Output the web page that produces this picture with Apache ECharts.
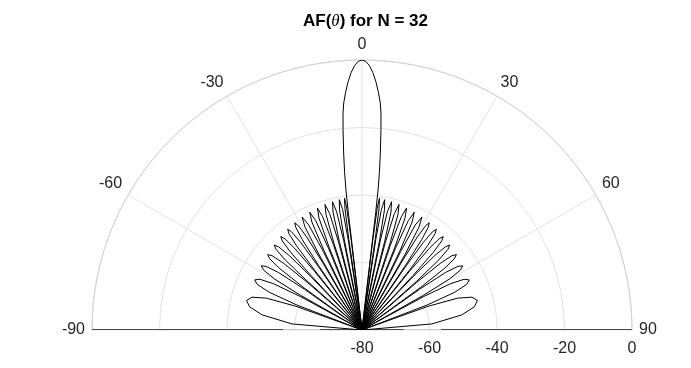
<!DOCTYPE html>
<html>
<head>
<meta charset="utf-8">
<script src="https://cdn.jsdelivr.net/npm/echarts@6/dist/echarts.min.js"></script>
<style>html,body{margin:0;padding:0;background:#fff}#c{width:691px;height:368px}</style>
</head>
<body>
<div id="c"></div>
<script>
// Angle tick labels (degrees) and radial tick labels (dB)
const thetaTicks = [-90, -60, -30, 0, 30, 60, 90];
const rTicks = [-80, -60, -40, -20, 0];

// Main lobe (theta in degrees, AF in dB)
const mainTheta = [-6.7, -6.65, -6.55, -6.3, -5.9, -5.4, -5.0, -4.6, -3.9, -3.2, -2.4, -1.6, -0.8, 0,
                   0.8, 1.6, 2.4, 3.2, 3.9, 4.6, 5.0, 5.4, 5.9, 6.3, 6.55, 6.65, 6.7];
const mainDb = [-80, -45, -38.5, -33, -27, -20.3, -15.5, -12.5, -9.2, -6.3, -3.6, -1.6, -0.4, 0,
                -0.4, -1.6, -3.6, -6.3, -9.2, -12.5, -15.5, -20.3, -27, -33, -38.5, -45, -80];

// Side lobes, right half (from main-lobe null outwards to 90 deg)
const rightTheta = [
  6.84, 7.12, 7.55, 7.98, 8.29, 8.44,
  8.67, 9.15, 9.87, 10.59, 11.08, 11.31,
  11.57, 12.14, 12.97, 13.80, 14.37, 14.64,
  14.92, 15.53, 16.42, 17.31, 17.93, 18.21,
  18.51, 19.15, 20.08, 21.03, 21.67, 21.97,
  22.28, 22.95, 23.92, 24.91, 25.58, 25.90,
  26.22, 26.91, 27.93, 28.96, 29.66, 30.00,
  30.25, 30.75, 31.38, 32.09, 32.81, 33.45, 33.97, 34.23,
  34.49, 35.01, 35.67, 36.42, 37.18, 37.86, 38.41, 38.68,
  38.96, 39.51, 40.21, 41.01, 41.83, 42.55, 43.14, 43.43,
  43.73, 44.33, 45.08, 45.95, 46.83, 47.62, 48.26, 48.59,
  48.92, 49.58, 50.41, 51.38, 52.36, 53.25, 53.98, 54.34,
  54.71, 55.46, 56.42, 57.54, 58.69, 59.74, 60.60, 61.04,
  61.50, 62.41, 63.59, 64.99, 66.47, 67.85, 69.02, 69.64,
  70.26, 71.58, 73.37, 75.64, 78.35, 81.40, 85.03, 90.00
];
const rightDb = [
  -52.6, -43.6, -40.6, -43.6, -52.6, -80,
  -52.8, -43.8, -40.8, -43.8, -52.8, -80,
  -53.0, -44.0, -41.0, -44.0, -53.0, -80,
  -53.2, -44.2, -41.2, -44.2, -53.2, -80,
  -53.5, -44.5, -41.5, -44.5, -53.5, -80,
  -53.8, -44.8, -41.8, -44.8, -53.8, -80,
  -54.1, -45.1, -42.1, -45.1, -54.1, -80,
  -57.0, -47.9, -43.8, -42.5, -43.8, -47.9, -57.0, -80,
  -57.4, -48.3, -44.2, -42.9, -44.2, -48.3, -57.4, -80,
  -57.8, -48.7, -44.6, -43.3, -44.6, -48.7, -57.8, -80,
  -58.3, -49.2, -45.1, -43.8, -45.1, -49.2, -58.3, -80,
  -58.7, -49.6, -45.5, -44.2, -45.5, -49.6, -58.7, -80,
  -59.1, -50.0, -45.9, -44.6, -45.9, -50.0, -59.1, -80,
  -59.4, -50.3, -46.2, -44.9, -46.2, -50.3, -59.4, -80,
  -59.2, -50.1, -46.0, -44.7, -46.0, -50.1, -59.2, -80
];

// Side lobes, left half (from -90 deg inwards to main-lobe null)
const leftTheta = [
  -90.00, -85.03, -81.40, -78.35, -75.64, -73.37, -71.58, -70.26,
  -69.64, -69.02, -67.85, -66.47, -64.99, -63.59, -62.41, -61.50,
  -61.04, -60.60, -59.74, -58.69, -57.54, -56.42, -55.46, -54.71,
  -54.34, -53.98, -53.25, -52.36, -51.38, -50.41, -49.58, -48.92,
  -48.59, -48.26, -47.62, -46.83, -45.95, -45.08, -44.33, -43.73,
  -43.43, -43.14, -42.55, -41.83, -41.01, -40.21, -39.51, -38.96,
  -38.68, -38.41, -37.86, -37.18, -36.42, -35.67, -35.01, -34.49,
  -34.23, -33.97, -33.45, -32.81, -32.09, -31.38, -30.75, -30.25,
  -30.00, -29.66, -28.96, -27.93, -26.91, -26.22,
  -25.90, -25.58, -24.91, -23.92, -22.95, -22.28,
  -21.97, -21.67, -21.03, -20.08, -19.15, -18.51,
  -18.21, -17.93, -17.31, -16.42, -15.53, -14.92,
  -14.64, -14.37, -13.80, -12.97, -12.14, -11.57,
  -11.31, -11.08, -10.59, -9.87, -9.15, -8.67,
  -8.44, -8.29, -7.98, -7.55, -7.12, -6.84
];
const leftDb = [
  -80, -59.2, -50.1, -46.0, -44.7, -46.0, -50.1, -59.2,
  -80, -59.4, -50.3, -46.2, -44.9, -46.2, -50.3, -59.4,
  -80, -59.1, -50.0, -45.9, -44.6, -45.9, -50.0, -59.1,
  -80, -58.7, -49.6, -45.5, -44.2, -45.5, -49.6, -58.7,
  -80, -58.3, -49.2, -45.1, -43.8, -45.1, -49.2, -58.3,
  -80, -57.8, -48.7, -44.6, -43.3, -44.6, -48.7, -57.8,
  -80, -57.4, -48.3, -44.2, -42.9, -44.2, -48.3, -57.4,
  -80, -57.0, -47.9, -43.8, -42.5, -43.8, -47.9, -57.0,
  -80, -54.1, -45.1, -42.1, -45.1, -54.1,
  -80, -53.8, -44.8, -41.8, -44.8, -53.8,
  -80, -53.5, -44.5, -41.5, -44.5, -53.5,
  -80, -53.2, -44.2, -41.2, -44.2, -53.2,
  -80, -53.0, -44.0, -41.0, -44.0, -53.0,
  -80, -52.8, -43.8, -40.8, -43.8, -52.8,
  -80, -52.6, -43.6, -40.6, -43.6, -52.6
];

// Radial edge lines of the half-plane at +-90 deg (dark spans and lighter gap, in dB)
const edgeTheta = [-90, 90];
const edgeDarkSpans = [[-80, -67.6], [-56.6, 0]];
const edgeLightSpan = [-67.6, -56.6];

const thetaAll = leftTheta.concat(mainTheta, rightTheta);
const dbAll = leftDb.concat(mainDb, rightDb);
const afData = thetaAll.map((t, i) => [dbAll[i], t]);

const edgeSeries = [];
edgeTheta.forEach(t => {
  edgeSeries.push({
    type: 'line', coordinateSystem: 'polar', polarIndex: 0, showSymbol: false, silent: true, z: 1,
    data: [[edgeLightSpan[0], t], [edgeLightSpan[1], t]],
    lineStyle: { color: '#bdbdbd', width: 1.5 }
  });
  edgeDarkSpans.forEach(s => {
    edgeSeries.push({
      type: 'line', coordinateSystem: 'polar', polarIndex: 0, showSymbol: false, silent: true, z: 1,
      data: [[s[0], t], [s[1], t]],
      lineStyle: { color: '#4a4a4a', width: 1.8 }
    });
  });
});

const font = 'Liberation Sans, Arial, Helvetica, sans-serif';
const labelStyle = { color: '#262626', fontSize: 16, fontFamily: font };
const chart = echarts.init(document.getElementById('c'), null, { renderer: 'canvas' });
chart.setOption({
  animation: false,
  backgroundColor: '#fff',
  title: {
    text: 'AF({i|θ}) for N = 32',
    left: 298, top: 8,
    textStyle: {
      fontSize: 17, fontWeight: 'bold', fontFamily: font, color: '#000',
      rich: { i: { fontSize: 17, fontStyle: 'italic', fontWeight: 'normal', fontFamily: 'Liberation Serif, serif', color: '#000' } }
    }
  },
  polar: [
    { center: [362, 330], radius: 270 },
    { center: [362, 330], radius: 270 }
  ],
  angleAxis: [
    {
      polarIndex: 0,
      type: 'value', min: thetaTicks[0], max: thetaTicks[thetaTicks.length - 1], interval: 30,
      startAngle: 180, endAngle: 0, clockwise: true,
      axisLine: { show: true, lineStyle: { color: '#d2d2d2', width: 1 } },
      axisTick: { show: false },
      axisLabel: Object.assign({ margin: 7 }, labelStyle),
      splitLine: { show: true, lineStyle: { color: '#e2e2e2', width: 1 } }
    },
    {
      polarIndex: 1,
      type: 'value', min: thetaTicks[0], max: thetaTicks[thetaTicks.length - 1],
      startAngle: 0, endAngle: 180, clockwise: false,
      axisLine: { show: false }, axisTick: { show: false },
      axisLabel: { show: false }, splitLine: { show: false }
    }
  ],
  radiusAxis: [
    {
      polarIndex: 0,
      type: 'value', min: rTicks[0], max: rTicks[rTicks.length - 1], interval: 20,
      axisLine: { show: false }, axisTick: { show: false },
      axisLabel: { show: false },
      splitLine: { show: true, lineStyle: { color: '#e2e2e2', width: 1 } }
    },
    {
      polarIndex: 1,
      type: 'value', min: rTicks[0], max: rTicks[rTicks.length - 1], interval: 20,
      axisLine: { show: false }, axisTick: { show: false },
      axisLabel: Object.assign({ margin: -11, verticalAlign: 'top', align: 'center' }, labelStyle),
      splitLine: { show: false }
    }
  ],
  series: edgeSeries.concat([{
    name: 'AF', type: 'line', coordinateSystem: 'polar', polarIndex: 0, showSymbol: false, z: 5,
    data: afData,
    lineStyle: { color: '#000', width: 1 }
  }])
});
</script>
</body>
</html>
